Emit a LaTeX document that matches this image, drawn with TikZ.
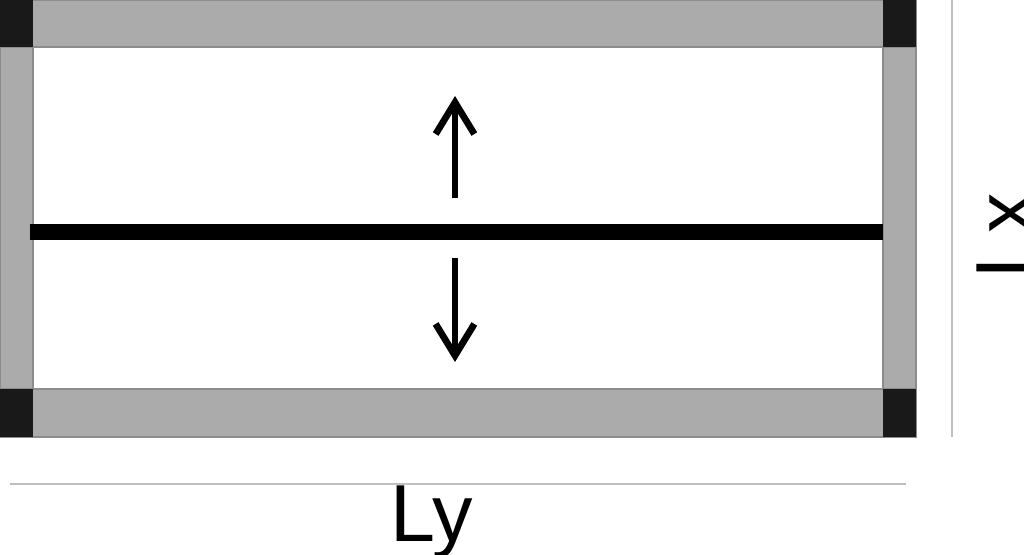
\documentclass[tikz,border=0pt]{standalone}
\usepackage{fontspec}
\setmainfont{Liberation Sans}
\usetikzlibrary{arrows.meta}
\tikzset{
  band/.style={fill=black!33,draw=black!45,line width=0.4pt},
  post/.style={fill=black!90},
  dimline/.style={draw=black!25,line width=0.6pt},
  push/.style={line width=1.9pt,-{Straight Barb[length=9pt,width=11pt,line width=1.9pt]}},
  dimlab/.style={font=\fontsize{23}{27}\selectfont,inner sep=0pt}
}
\begin{document}
\begin{tikzpicture}[x=0.01cm,y=-0.01cm]
	\useasboundingbox (0,0) rectangle (1024,555);
	% walls
	\fill[white] (0,0) rectangle (916,437);
	\draw[band] (0,0) rectangle (916,47);
	\draw[band] (0,389) rectangle (916,437);
	\draw[band] (0,47) rectangle (33,389);
	\draw[band] (883,47) rectangle (916,389);
	\fill[post] (0,0) rectangle (33,47);
	\fill[post] (883,0) rectangle (916,47);
	\fill[post] (0,389) rectangle (33,437);
	\fill[post] (883,389) rectangle (916,437);
	% crack
	\coordinate (cl) at (30,232);
	\coordinate (cr) at (883,232);
	\draw[line width=4.5pt] (cl) -- (cr);
	\coordinate (ua) at (455,198);
	\coordinate (ub) at (455,96);
	\coordinate (da) at (455,258);
	\coordinate (db) at (455,362);
	\draw[push] (ua) -- (ub);
	\draw[push] (da) -- (db);
	% dimensions
	\coordinate (ya) at (10,484);
	\coordinate (yb) at (906,484);
	\draw[dimline] (ya) -- (yb);
	\node[dimlab] (ly) at (432,522) {Ly};
	\coordinate (xa) at (952,0);
	\coordinate (xb) at (952,437);
	\draw[dimline] (xa) -- (xb);
	\node[dimlab,rotate=90] (lx) at (1005,236) {Lx};
\end{tikzpicture}
\end{document}
